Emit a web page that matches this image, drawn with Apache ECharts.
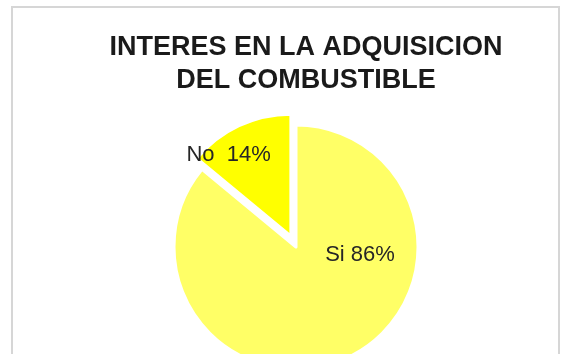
<!DOCTYPE html>
<html>
<head>
<meta charset="utf-8">
<script src="https://cdn.jsdelivr.net/npm/echarts@6/dist/echarts.min.js"></script>
<style>
html,body{margin:0;padding:0;background:#fff;}
#chart{width:563px;height:354px;}
</style>
</head>
<body>
<div id="chart"></div>
<script>
const titleText = 'INTERES EN LA ADQUISICION\nDEL COMBUSTIBLE';
const categories = ['Si', 'No'];
const values = [86, 14];
const labelSeparators = [' ', '  '];
const colors = ['#FFFF66', '#FFFF00'];

const chart = echarts.init(document.getElementById('chart'), null, {renderer: 'canvas'});
const cx = 296, cy = 247, R = 122;

chart.setOption({
  backgroundColor: '#ffffff',
  animation: false,
  graphic: [{
    type: 'rect', z: -1,
    shape: {x: 12, y: 7, width: 547, height: 380},
    style: {fill: '#fff', stroke: '#d6d6d6', lineWidth: 2}
  }],
  title: {
    text: titleText,
    left: 301, top: 26,
    textAlign: 'center',
    textStyle: {
      fontFamily: 'Liberation Sans', fontWeight: 'bold',
      fontSize: 27, lineHeight: 33, color: '#1a1a1a'
    }
  },
  series: [{
    type: 'pie',
    center: [cx, cy],
    radius: R,
    startAngle: 90,
    clockwise: true,
    selectedMode: 'single',
    selectedOffset: 12,
    data: categories.map((c, i) => ({
      name: c, value: values[i], selected: c === 'No',
      itemStyle: {color: colors[i]},
      label: c === 'No' ? {padding: [0, 70, 0, 0]} : {}
    })),
    itemStyle: {borderColor: '#ffffff', borderWidth: 3},
    emphasis: {disabled: true},
    labelLine: {show: false},
    label: {
      show: true,
      position: 'inside',
      fontFamily: 'Liberation Sans',
      fontSize: 22,
      lineHeight: 23,
      color: '#262626',
      formatter: p => p.name + labelSeparators[p.dataIndex] + p.value + '%' +
        (p.dataIndex === 1 ? '\n \n ' : '')
    },
    labelLayout: p => p.dataIndex === 0 ? {
      x: cx + 64, y: cy + 8,
      align: 'center', verticalAlign: 'middle'
    } : {}
  }]
});
</script>
</body>
</html>
